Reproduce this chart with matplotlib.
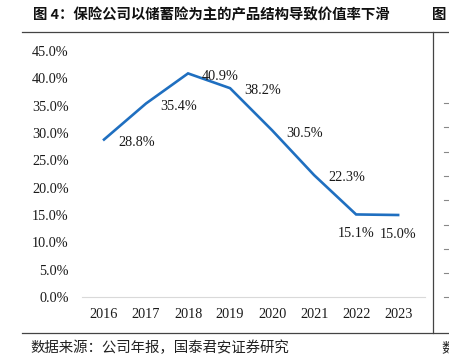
import matplotlib
matplotlib.use("Agg")
import matplotlib.pyplot as plt
from matplotlib.lines import Line2D

# === Data ===
years = ["2016", "2017", "2018", "2019", "2020", "2021", "2022", "2023"]
value_rate = [28.8, 35.4, 40.9, 38.2, 30.5, 22.3, 15.1, 15.0]
y_ticks = [0, 5, 10, 15, 20, 25, 30, 35, 40, 45]

title = "图 4：保险公司以储蓄险为主的产品结构导致价值率下滑"
source = "数据来源：公司年报，国泰君安证券研究"

serif = ["Liberation Serif", "DejaVu Serif"]
cjk = ["Noto Sans CJK SC", "DejaVu Sans"]

W, H = 449, 364
fig = plt.figure(figsize=(W / 100, H / 100), dpi=100)

# axes placed in pixel terms
ax = fig.add_axes([82 / W, 1 - 297 / H, 343 / W, (297 - 51) / H])

x = list(range(len(years)))
ax.plot(x, value_rate, color="#1F6FC0", lw=1.9, solid_joinstyle="miter")

# labels: first six to the right, last two below
for i, v in enumerate(value_rate):
    if i < 6:
        ax.annotate(f"{v:.1f}%", (i, v), xytext=(10, -2), textcoords="offset points",
                    ha="left", va="center", fontsize=10.3, family=serif, color="#1a1a1a")
    else:
        ax.annotate(f"{v:.1f}%", (i, v), xytext=(0, -14), textcoords="offset points",
                    ha="center", va="center", fontsize=10.3, family=serif, color="#1a1a1a")

ax.set_xlim(-0.524, 7.64)
ax.set_ylim(0, 45)
ax.set_xticks(x)
ax.set_xticklabels(years, family=serif, fontsize=10.3)
ax.set_yticks(y_ticks)
ax.set_yticklabels([f"{t:.1f}%" for t in y_ticks], family=serif, fontsize=10.3)
ax.tick_params(length=0, colors="#1a1a1a")
ax.tick_params(axis="y", pad=9.5)
ax.tick_params(axis="x", pad=8)
for s in ["top", "right", "left"]:
    ax.spines[s].set_visible(False)
ax.spines["bottom"].set_color("#d9d9d9")
ax.spines["bottom"].set_linewidth(0.8)
ax.set_facecolor("none")

# frame lines of the report page
def px_line(x0, y0, x1, y1, **kw):
    fig.add_artist(Line2D([x0 / W, x1 / W], [1 - y0 / H, 1 - y1 / H],
                          transform=fig.transFigure, **kw))

px_line(22, 32, 449, 32, color="#444444", lw=0.9)
px_line(22, 333, 449, 333, color="#444444", lw=0.9)
px_line(433, 32, 433, 333, color="#444444", lw=0.9)

# cut-off neighbour chart on the right
for k in range(9):
    yy = 103 + k * 24.3
    px_line(444, yy, 448, yy, color="#888888", lw=0.8)

fig.text(33 / W, 1 - 15 / H, title, family=cjk, fontsize=10.4, fontweight="bold",
         ha="left", va="center", color="#111111")
fig.text(432 / W, 1 - 15 / H, "图", family=cjk, fontsize=10.4, fontweight="bold",
         ha="left", va="center", color="#111111")
fig.text(30 / W, 1 - 348 / H, source, family=cjk, fontsize=10.4,
         ha="left", va="center", color="#222222")
fig.text(441 / W, 1 - 348 / H, "数", family=cjk, fontsize=10.4,
         ha="left", va="center", color="#222222")

fig.savefig("out.png", dpi=100)
